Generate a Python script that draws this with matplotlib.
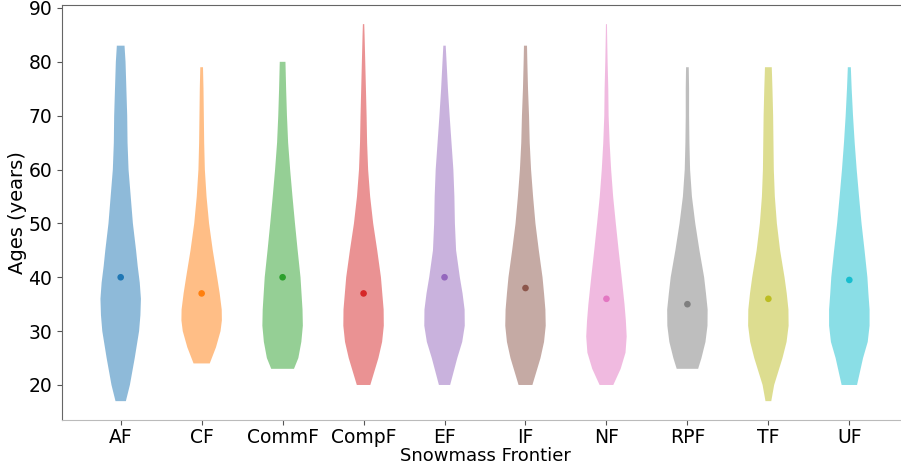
import numpy as np
import matplotlib.pyplot as plt

frontiers = ["AF", "CF", "CommF", "CompF", "EF", "IF", "NF", "RPF", "TF", "UF"]
medians = [40, 37, 40, 37, 40, 38, 36, 35, 36, 39.5]

# violin outlines: age (years) and relative width
ages_af = [17, 20, 25, 30, 33, 36, 39, 42, 45, 50, 55, 60, 65, 70, 75, 80, 83]
dens_af = [31, 55, 84, 110, 118, 121, 114, 102, 92, 73, 60, 47, 41, 39, 34, 29, 23]

ages_cf = [24, 27, 30, 32, 34, 37, 40, 45, 50, 55, 60, 65, 70, 75, 79]
dens_cf = [48, 85, 112, 120, 119, 107, 92, 66, 44, 29, 19, 15, 13, 11, 8]

ages_commf = [23, 25, 28, 31, 34, 37, 40, 45, 50, 55, 60, 65, 70, 75, 80]
dens_commf = [68, 94, 112, 121, 119, 113, 107, 90, 74, 59, 45, 33, 26, 21, 17]

ages_compf = [20, 25, 28, 31, 34, 37, 40, 45, 50, 55, 60, 65, 70, 75, 80, 85, 87]
dens_compf = [40, 88, 110, 120, 119, 111, 103, 81, 57, 39, 27, 21, 18, 14, 10, 6, 4]

ages_ef = [20, 25, 28, 31, 34, 37, 40, 45, 50, 55, 60, 65, 70, 75, 80, 83]
dens_ef = [33, 75, 104, 119, 118, 106, 90, 68, 61, 58, 52, 41, 30, 20, 12, 7]

ages_if = [20, 25, 28, 31, 34, 37, 40, 45, 50, 55, 60, 65, 70, 75, 80, 83]
dens_if = [41, 89, 110, 120, 118, 110, 101, 79, 59, 45, 33, 25, 21, 15, 11, 9]

ages_nf = [20, 23, 26, 29, 32, 35, 40, 45, 50, 55, 60, 65, 70, 75, 80, 85, 87]
dens_nf = [41, 85, 114, 121, 116, 108, 91, 73, 56, 40, 28, 19, 13, 11, 7, 4, 3]

ages_rpf = [23, 25, 28, 31, 34, 37, 40, 45, 50, 55, 60, 65, 70, 75, 79]
dens_rpf = [64, 84, 108, 120, 121, 111, 100, 72, 47, 27, 16, 12, 10, 10, 8]

ages_tf = [17, 20, 25, 28, 31, 34, 37, 40, 45, 50, 55, 60, 65, 70, 75, 79]
dens_tf = [17, 34, 83, 107, 119, 118, 108, 95, 69, 50, 38, 32, 30, 28, 24, 20]

ages_uf = [20, 25, 28, 31, 34, 37, 40, 45, 50, 55, 60, 65, 70, 75, 79]
dens_uf = [46, 82, 110, 121, 121, 114, 108, 91, 73, 58, 44, 32, 22, 14, 9]

all_ages = [ages_af, ages_cf, ages_commf, ages_compf, ages_ef,
            ages_if, ages_nf, ages_rpf, ages_tf, ages_uf]
all_dens = [dens_af, dens_cf, dens_commf, dens_compf, dens_ef,
            dens_if, dens_nf, dens_rpf, dens_tf, dens_uf]

vpstats = []
for ages, dens, med in zip(all_ages, all_dens, medians):
    vpstats.append({"coords": np.array(ages, float), "vals": np.array(dens, float),
                    "mean": med, "median": med, "min": ages[0], "max": ages[-1]})

colors = plt.get_cmap("tab10").colors
positions = np.arange(1, len(frontiers) + 1)

fig = plt.figure(figsize=(9.01, 4.63), dpi=100)
ax = fig.add_axes([0.0688, 0.0929, 0.939, 0.8957])

parts = ax.violin(vpstats, positions=positions, widths=0.5,
                  showmeans=False, showextrema=False, showmedians=False)
for body, c in zip(parts["bodies"], colors):
    body.set_facecolor(c)
    body.set_edgecolor("none")
    body.set_alpha(0.5)

ax.scatter(positions, medians, s=14, c=colors[:len(frontiers)], zorder=3)

ax.set_xticks(positions)
ax.set_xticklabels(frontiers)
ax.set_yticks([20, 30, 40, 50, 60, 70, 80, 90])
ax.tick_params(labelsize=13.5, colors="#555555", labelcolor="black", length=3.5)
ax.tick_params(axis="x", pad=2.5)
ax.set_xlabel("Snowmass Frontier", fontsize=13, labelpad=-0.5)
ax.set_ylabel("Ages (years)", fontsize=14, labelpad=1)

ax.spines["left"].set_color("#666666")
ax.spines["top"].set_color("#666666")
ax.spines["bottom"].set_color("#bbbbbb")
ax.spines["right"].set_color("#bbbbbb")

plt.savefig("out.png", dpi=100)
